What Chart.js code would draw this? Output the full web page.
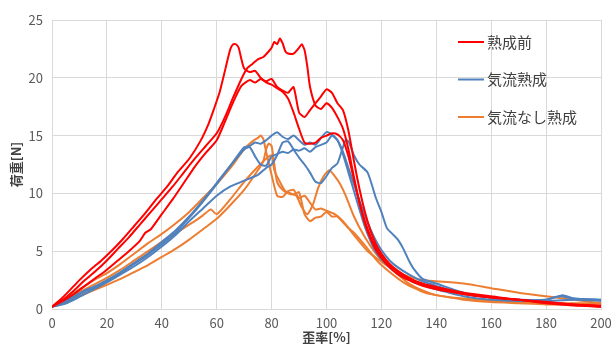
<!DOCTYPE html>
<html>
<head>
<meta charset="utf-8">
<script src="https://cdn.jsdelivr.net/npm/chart.js@4.4.0/dist/chart.umd.min.js"></script>
<style>
    html, body { margin: 0; padding: 0; background: #fff; }
    #wrap { width: 613px; height: 345px; }
</style>
</head>
<body>
<div id="wrap"><canvas id="loadChart"></canvas></div>
<script>
// axis ticks
var strainTicks = [0, 20, 40, 60, 80, 100, 120, 140, 160, 180, 200];
var loadTicks = [0, 5, 10, 15, 20, 25];

// legend groups
var groupNames = ['熟成前', '気流熟成', '気流なし熟成'];
var groupColors = ['#FF0000', '#4F81BD', '#ED7D31'];

// 熟成前 (3 samples)
var r1x = [0,3,6,10,14,18,22,26,30,34,38,42,46,50,54,57,59,61,63,64,65,66,67,68,69,70,72,74,76,78,80,82,84,86,88,90,92,94,96,98,100,102,104,106,108,110,112,114,116,118,120,123,126,130,135,140,150,160,170,180,190,200];
var r1y = [0.2,0.8,1.5,2.5,3.4,4.2,5.1,6.1,7.2,8.3,9.5,10.6,11.9,13.0,14.5,16.0,17.3,18.7,20.6,21.6,22.5,22.9,22.9,22.6,21.6,20.8,20.5,20.6,20.0,19.6,19.4,19.1,18.8,18.2,17.0,15.6,14.4,14.3,14.4,14.8,15.0,15.2,15.1,14.6,13.2,11.2,9.2,7.6,6.3,5.3,4.6,3.8,3.2,2.6,2.1,1.8,1.3,1.0,0.8,0.6,0.4,0.3];
var r2x = [0,4,8,12,16,20,24,28,32,36,40,44,48,52,56,60,63,66,69,71,73,75,77,79,80,81,82,83,84,85,86,88,90,91,92,93,94,96,98,100,102,104,106,108,110,112,114,116,118,120,123,126,130,135,140,150,160,170,180,190,200];
var r2y = [0.2,0.8,1.6,2.5,3.3,4.2,5.2,6.2,7.3,8.4,9.5,10.6,11.8,13.0,14.1,15.2,16.6,18.3,19.9,20.8,21.2,21.6,21.8,22.3,22.6,23.1,22.9,23.4,23.0,22.3,22.1,22.1,22.6,22.9,22.4,21.0,19.2,17.6,17.3,17.8,17.4,16.6,15.6,13.8,11.4,9.2,7.4,6.1,5.1,4.4,3.6,3.0,2.5,2.0,1.7,1.3,1.0,0.8,0.5,0.3,0.2];
var r3x = [0,4,8,12,16,20,24,28,32,34,36,40,44,48,52,56,60,63,66,69,72,74,76,78,80,82,84,86,88,90,92,94,96,98,100,102,104,106,108,110,112,114,116,118,120,123,126,130,135,140,150,160,170,180,190,200];
var r3y = [0.2,0.7,1.3,2.0,2.7,3.4,4.2,5.0,5.9,6.6,6.9,8.2,9.5,10.9,12.3,13.5,14.6,16.2,17.9,19.3,19.8,19.6,19.9,19.7,19.9,19.2,18.9,18.7,19.2,17.0,16.6,17.2,17.8,18.4,19.0,18.7,17.8,17.2,15.4,12.8,10.4,8.4,6.8,5.6,4.8,3.9,3.3,2.7,2.2,1.9,1.4,1.1,0.8,0.6,0.4,0.2];

// 気流熟成 (3 samples)
var b1x = [0,4,8,12,16,20,25,30,35,40,45,50,55,60,65,70,72,74,76,78,80,82,84,86,88,90,92,94,96,98,100,102,104,106,108,110,112,114,116,118,120,123,126,130,135,140,145,150,160,170,180,185,190,200];
var b1y = [0.2,0.5,1.0,1.5,1.9,2.4,3.1,3.9,4.7,5.6,6.6,7.9,9.3,10.8,12.4,14.0,14.1,14.4,14.3,14.6,15.0,15.3,14.9,14.7,15.0,14.6,14.2,14.4,14.2,14.8,15.3,15.1,14.6,13.6,12.2,10.8,9.4,8.1,6.9,5.9,5.1,4.2,3.6,3.0,2.4,2.0,1.6,1.3,1.0,0.8,0.8,1.1,0.9,0.8];
var b2x = [0,4,8,12,16,20,25,30,35,40,45,50,55,60,65,70,72,74,76,78,80,82,84,86,88,90,92,94,96,98,100,102,104,106,108,110,112,114,116,118,120,124,128,132,136,140,150,160,170,180,190,200];
var b2y = [0.2,0.6,1.1,1.6,2.0,2.5,3.2,4.0,4.8,5.8,6.8,8.0,9.4,10.9,12.4,13.8,14.0,13.2,12.5,12.4,13.2,13.4,13.6,13.5,13.8,13.7,13.9,13.6,14.0,14.2,14.4,15.0,14.6,13.4,11.8,10.2,8.6,7.1,5.9,4.9,4.3,3.4,2.8,2.3,2.0,1.7,1.1,0.8,0.7,0.7,0.8,0.7];
var b3x = [0,4,8,12,16,20,25,30,35,40,45,50,55,60,65,70,75,78,80,82,84,86,88,90,92,94,96,98,100,102,104,106,107,108,110,112,115,118,120,122,124,126,128,130,132,135,140,150,160,170,180,186,190,200];
var b3y = [0.2,0.4,0.8,1.3,1.8,2.3,3.0,3.7,4.5,5.4,6.4,7.6,8.7,9.8,10.6,11.1,11.6,12.2,12.5,13.3,14.4,14.5,13.8,13.1,12.5,11.8,11.0,10.9,11.5,12.2,12.6,14.0,14.6,14.5,13.3,12.5,11.8,9.6,8.4,7.0,6.5,6.0,5.2,4.2,3.4,2.6,2.2,1.4,1.0,0.8,0.8,1.2,0.9,0.8];

// 気流なし熟成 (3 samples)
var o1x = [0,4,8,12,16,20,25,30,35,40,45,50,55,60,65,70,73,75,76,77,78,80,82,84,86,88,90,92,94,96,98,100,103,106,110,115,120,125,130,135,140,150,160,170,180,190,200];
var o1y = [0.2,0.8,1.4,2.0,2.6,3.1,3.9,4.8,5.7,6.5,7.4,8.4,9.6,10.8,12.2,13.8,14.5,14.8,15.0,14.7,13.6,11.6,9.8,9.7,10.2,10.3,9.6,9.8,9.2,8.6,8.7,8.5,8.2,7.6,6.4,5.0,4.1,3.3,2.8,2.5,2.4,2.2,1.8,1.4,1.1,0.8,0.5];
var o2x = [0,4,8,12,16,20,25,30,35,40,45,50,55,60,65,70,75,77,78,79,80,81,82,84,86,88,90,92,94,96,98,100,102,104,106,108,110,114,118,120,124,128,132,136,140,150,160,170,180,190,200];
var o2y = [0.2,0.5,0.9,1.3,1.7,2.1,2.6,3.2,3.8,4.5,5.2,6.0,6.9,7.8,9.0,10.3,12.0,12.8,13.8,14.3,14.1,12.5,11.0,10.3,10.0,9.9,10.1,8.2,7.6,7.9,8.0,8.4,8.0,8.0,7.5,7.0,6.6,5.5,4.3,3.8,3.0,2.3,1.8,1.4,1.2,0.8,0.6,0.5,0.4,0.4,0.3];
var o3x = [0,4,8,12,16,20,25,30,35,40,44,48,52,55,57,58,60,65,70,75,78,80,81,83,85,87,89,91,93,95,97,99,101,103,105,107,110,114,118,122,126,130,135,140,150,160,170,180,190,200];
var o3y = [0.2,0.7,1.2,1.7,2.2,2.7,3.4,4.2,5.0,5.8,6.4,7.0,7.6,8.1,8.5,8.6,8.2,9.5,11.0,12.3,13.0,13.3,12.0,11.0,10.2,10.0,9.8,8.8,8.2,9.0,10.5,11.5,12.0,11.5,10.8,9.8,8.0,6.2,4.8,3.8,3.0,2.2,1.6,1.2,0.9,0.7,0.6,0.5,0.5,0.5];

var curves = [
    [r1x, r1y, 0], [r2x, r2y, 0], [r3x, r3y, 0],
    [b1x, b1y, 1], [b2x, b2y, 1], [b3x, b3y, 1],
    [o1x, o1y, 2], [o2x, o2y, 2], [o3x, o3y, 2]
];

function toPoints(xs, ys) {
    var pts = [];
    var n = Math.min(xs.length, ys.length);
    for (var i = 0; i < n; i++) pts.push({ x: xs[i], y: ys[i] });
    return pts;
}

var datasets = curves.map(function (c) {
    return {
        label: groupNames[c[2]],
        data: toPoints(c[0], c[1]),
        borderColor: groupColors[c[2]],
        borderWidth: 2,
        pointRadius: 0,
        tension: 0.2,
        fill: false
    };
});

var jpFont = '"Noto Sans CJK JP", "Noto Sans", sans-serif';

// legend drawn inside the plot, one entry per group
var groupLegend = {
    id: 'groupLegend',
    afterDraw: function (chart) {
        var ctx = chart.ctx;
        ctx.save();
        ctx.font = '15px ' + jpFont;
        ctx.textBaseline = 'middle';
        ctx.lineWidth = 2;
        for (var i = 0; i < groupNames.length; i++) {
            var y = 42 + i * 37.5;
            ctx.strokeStyle = groupColors[i];
            ctx.beginPath();
            ctx.moveTo(458, y);
            ctx.lineTo(484, y);
            ctx.stroke();
            ctx.fillStyle = '#404040';
            ctx.fillText(groupNames[i], 487, y);
        }
        ctx.restore();
    }
};

var chart = new Chart(document.getElementById('loadChart'), {
    type: 'line',
    data: { datasets: datasets },
    options: {
        responsive: true,
        maintainAspectRatio: false,
        animation: false,
        layout: { padding: { top: 20, right: 12, left: 0, bottom: 0 } },
        plugins: {
            legend: { display: false },
            tooltip: { enabled: false }
        },
        scales: {
            x: {
                type: 'linear',
                min: 0,
                max: 200,
                afterBuildTicks: function (s) {
                    s.ticks = strainTicks.map(function (v) { return { value: v }; });
                },
                afterFit: function (s) {
                    s.height = 36;
                    s.paddingRight = 0;
                    s.paddingLeft = 0;
                },
                grid: { color: '#d9d9d9', drawTicks: false },
                border: { color: '#d9d9d9' },
                ticks: { color: '#595959', font: { family: jpFont, size: 13 }, padding: 6, maxRotation: 0 },
                title: {
                    display: true,
                    text: '歪率[%]',
                    color: '#404040',
                    font: { family: jpFont, size: 13, weight: 'bold' },
                    padding: { top: 0, bottom: 0 }
                }
            },
            y: {
                min: 0,
                max: 25,
                afterBuildTicks: function (s) {
                    s.ticks = loadTicks.map(function (v) { return { value: v }; });
                },
                afterFit: function (s) { s.width = 52; },
                grid: { color: '#d9d9d9', drawTicks: false },
                border: { color: '#d9d9d9' },
                ticks: { color: '#595959', font: { family: jpFont, size: 13 }, padding: 9 },
                title: {
                    display: true,
                    text: '荷重[N]',
                    color: '#404040',
                    font: { family: jpFont, size: 13, weight: 'bold' },
                    padding: { top: 8, bottom: 0 }
                }
            }
        }
    },
    plugins: [groupLegend]
});
</script>
</body>
</html>
